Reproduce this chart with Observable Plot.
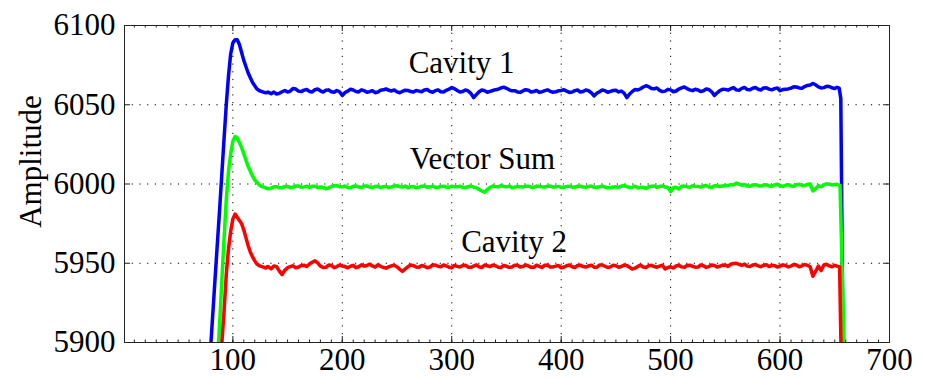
<!DOCTYPE html>
<html>
<head>
<meta charset="utf-8">
<script src="https://cdn.jsdelivr.net/npm/d3@7"></script>
<script src="https://cdn.jsdelivr.net/npm/@observablehq/plot@0.6"></script>
<style>
  html, body { margin: 0; padding: 0; background: #fff; }
  #chart svg { display: block; }
</style>
</head>
<body>
<div id="chart"></div>
<script>
// ---- data ----
const xTicks = [100, 200, 300, 400, 500, 600, 700];
const yTicks = [5900, 5950, 6000, 6050, 6100];
const xMinorTicks = d3.range(10, 700, 10);

// sample positions
const xRise = [70, 80, 84, 88, 90, 92, 94, 96, 98, 100, 102, 104, 106, 108, 110,
               112, 114, 116, 118, 120, 122, 124, 126, 128, 130, 132];
const xFlat = d3.range(135, 651, 5);      // 135, 140, ... 650
const xFlatMid = d3.range(137.5, 650, 5); // 137.5, 142.5, ... 647.5

// Cavity 1 (blue)
const cavity1Rise = [
  5780, 5900, 5943, 5985, 6007, 6029, 6050, 6068, 6082, 6089, 6091, 6091, 6088,
  6083, 6078, 6074, 6070, 6067, 6064, 6062, 6060, 6059, 6058.5, 6058, 6057.5, 6058];
const cavity1Flat = [
  6057, 6056.8, 6058.2, 6058, 6060.3, 6058.6, 6059.2, 6058.4, 6059.5, 6058.8,
  6059.1, 6058.2, 6059, 6055.8, 6058.6, 6059.3, 6058.1, 6058.9, 6058.3, 6057.6,
  6059.2, 6060, 6058.7, 6058.1, 6058.5, 6059, 6058, 6058.6, 6059.3, 6058.4,
  6058.9, 6058.2, 6059.1, 6060.8, 6059, 6058.3, 6058.7, 6054.5, 6058.2, 6058.9,
  6058.4, 6059.5, 6060.6, 6060.4, 6058.8, 6058.1, 6058.7, 6059.2, 6058.3, 6057.8,
  6058.9, 6058.5, 6058.2, 6059, 6058.6, 6058, 6059.3, 6058.4, 6058.8, 6055.6,
  6058.2, 6058.9, 6058.4, 6059.2, 6058.6, 6054.5, 6058.4, 6059.3, 6061.2, 6061.4,
  6060, 6059.1, 6058.6, 6059.4, 6058.7, 6060.6, 6060.2, 6058.9, 6059.3, 6058.8,
  6059.6, 6055.8, 6058.9, 6059.7, 6060.1, 6059.4, 6060.3, 6059.6, 6060.4, 6059.8,
  6060.6, 6059.9, 6060.2, 6058.9, 6059.8, 6060.5, 6061.2, 6060.4, 6062.2, 6063.4,
  6061.3, 6060.8, 6061.5, 6060.2];
const cavity1Mid = [
  6058.0, 6057.2, 6059.0, 6058.6, 6059.9, 6058.3, 6059.6, 6058.1, 6059.9, 6058.0,
  6059.4, 6057.9, 6058.2, 6057.7, 6059.8, 6058.4, 6059.4, 6057.9, 6058.9, 6058.0,
  6059.4, 6059.1, 6059.3, 6057.6, 6059.2, 6058.3, 6059.0, 6058.2, 6059.6, 6057.9,
  6059.4, 6058.0, 6059.8, 6060.1, 6058.0, 6059.3, 6057.2, 6056.4, 6059.3, 6057.9,
  6059.0, 6059.8, 6061.1, 6059.4, 6058.9, 6057.8, 6059.5, 6058.0, 6059.0, 6058.2,
  6059.4, 6057.9, 6058.8, 6059.5, 6057.8, 6058.9, 6058.0, 6059.3, 6057.6, 6057.2,
  6059.3, 6057.9, 6059.0, 6058.1, 6057.3, 6056.8, 6059.6, 6060.1, 6062.0, 6060.3,
  6060.6, 6058.3, 6059.7, 6058.2, 6059.9, 6061.2, 6059.4, 6059.8, 6058.3, 6059.9,
  6058.2, 6057.5, 6059.8, 6059.2, 6060.8, 6059.1, 6060.9, 6059.4, 6060.9, 6059.3,
  6060.7, 6059.4, 6060.6, 6059.6, 6060.0, 6061.4, 6060.6, 6061.5, 6062.4, 6062.6,
  6060.6, 6061.6, 6060.7];
const cavity1TailX = [652, 654, 655.5, 657.5, 660];
const cavity1TailY = [6061, 6060.5, 6054, 5900, 5860];

// Vector Sum (green)
const vectorSumRise = [
  5700, 5810, 5862, 5913, 5940, 5966, 5990, 6008, 6019, 6027, 6030, 6029, 6026,
  6023, 6019, 6015, 6011, 6008, 6005, 6002.5, 6001, 5999.5, 5998.5, 5998, 5997.5, 5997];
const vectorSumFlat = [
  5997.4, 5998.3, 5997.6, 5998.5, 5998, 5998.8, 5998.2, 5997.9, 5998.6, 5998.1,
  5997, 5998.4, 5998.9, 5998.2, 5997.8, 5998.6, 5998.1, 5998.7, 5998, 5998.4,
  5997.7, 5998.5, 5998.2, 5998.9, 5998.1, 5997.6, 5998.4, 5998, 5998.7, 5998.2,
  5997.8, 5998.5, 5998.1, 5998.6, 5998.2, 5997.9, 5998.4, 5998, 5996.5, 5994.8,
  5997.8, 5998.3, 5998.9, 5998.2, 5997.7, 5998.5, 5998.1, 5998.6, 5997.9, 5998.4,
  5998.1, 5998.7, 5998.2, 5997.8, 5998.5, 5998, 5998.6, 5998.1, 5998.4, 5997.9,
  5998.3, 5998, 5997.6, 5998.2, 5998.8, 5998.3, 5998, 5997.5, 5997.9, 5998.3,
  5998.8, 5998.4, 5998.1, 5995.2, 5998, 5998.6, 5998.2, 5998.9, 5998.5, 5998.7,
  5998.1, 5998.9, 5998.4, 5999, 5999.6, 6000.6, 5999.2, 5998.8, 5999.4, 5998.9,
  5999.3, 5998.8, 5999.5, 5998.9, 5999.2, 5998.7, 5999.6, 5999.1, 5999.8, 5995.6,
  5998.9, 5999.6, 5999.9, 5999.7];
const vectorSumMid = [
  5998.2, 5997.6, 5998.5, 5997.7, 5998.7, 5997.9, 5998.6, 5998.6, 5997.7, 5997.9,
  5997.6, 5998.9, 5998.3, 5998.8, 5997.6, 5998.7, 5997.9, 5998.8, 5997.9, 5998.6,
  5998.3, 5997.7, 5998.8, 5998.3, 5998.7, 5998.3, 5997.6, 5998.6, 5998.0, 5998.7,
  5997.9, 5998.6, 5998.0, 5998.3, 5998.6, 5997.8, 5998.6, 5997.6, 5995.6, 5996.5,
  5998.7, 5998.2, 5998.4, 5998.7, 5998.0, 5998.2, 5998.6, 5998.0, 5998.7, 5998.2,
  5998.6, 5998.0, 5998.5, 5997.9, 5998.6, 5998.1, 5998.6, 5998.0, 5998.7, 5998.0,
  5998.6, 5997.6, 5998.1, 5997.8, 5998.9, 5997.8, 5998.6, 5998.0, 5997.2, 5998.6,
  5997.9, 5998.8, 5997.8, 5997.6, 5996.9, 5998.7, 5997.9, 5998.5, 5998.0, 5999.1,
  5998.0, 5998.8, 5998.8, 5999.1, 5999.3, 6000.0, 5999.7, 5998.6, 5999.6, 5998.7,
  5999.5, 5998.6, 5999.8, 5998.5, 5999.6, 5998.6, 5999.8, 5999.0, 6000.0, 5997.1,
  5998.2, 6000.1, 5999.3];
const vectorSumTailX = [652, 654.8, 658.4, 661];
const vectorSumTailY = [5999.8, 5999, 5900, 5870];

// Cavity 2 (red)
const cavity2Rise = [
  5650, 5760, 5820, 5880, 5900, 5920, 5943, 5959, 5970, 5978, 5981, 5979, 5977,
  5975, 5971, 5966, 5961, 5957, 5954, 5951.5, 5949.5, 5948.5, 5948, 5947.5, 5947, 5948];
const cavity2Flat = [
  5946.5, 5947.8, 5942.8, 5947.2, 5948.4, 5947.6, 5948.8, 5949.5, 5951.5, 5948.2,
  5947.4, 5948.6, 5947.9, 5948.3, 5947.1, 5948.7, 5947.8, 5948.2, 5949.4, 5947.6,
  5948.1, 5946.9, 5948.4, 5947.7, 5944.9, 5947.8, 5948.5, 5947.4, 5948.1, 5947.6,
  5948.9, 5947.8, 5948.3, 5947.2, 5948, 5948.6, 5947.5, 5948.2, 5947.7, 5948.9,
  5947.9, 5948.4, 5947.3, 5948.1, 5947.6, 5948.7, 5947.9, 5948.3, 5947.4, 5948,
  5948.8, 5947.6, 5948.2, 5947.1, 5948.4, 5947.8, 5948.6, 5947.9, 5948.3, 5947.5,
  5948.9, 5948.1, 5947.7, 5948.4, 5947.9, 5948.5, 5946.3, 5948, 5947.6, 5948.5,
  5947.9, 5948.2, 5946.4, 5947.8, 5948.3, 5947.7, 5948.6, 5948.1, 5947.6, 5948.4,
  5947.9, 5948.6, 5948.1, 5948.8, 5949.4, 5950, 5948.7, 5948.2, 5948.9, 5948.3,
  5948.7, 5947.9, 5948.5, 5948.1, 5948.6, 5948.2, 5948.9, 5948.4, 5948.7, 5941.8,
  5948.2, 5948.9, 5948.3, 5948.7];
const cavity2Mid = [
  5948.3, 5945.0, 5945.6, 5947.9, 5947.1, 5948.5, 5947.9, 5950.6, 5950.2, 5947.3,
  5948.9, 5947.2, 5948.9, 5947.9, 5948.1, 5947.2, 5949.0, 5948.6, 5948.3, 5949.0,
  5947.3, 5947.8, 5948.8, 5946.2, 5946.4, 5948.9, 5947.6, 5948.6, 5947.2, 5948.9,
  5948.1, 5948.9, 5947.5, 5948.6, 5947.6, 5948.8, 5947.4, 5949.0, 5947.3, 5948.4,
  5948.8, 5947.5, 5948.6, 5947.4, 5948.8, 5947.6, 5948.9, 5947.4, 5948.8, 5947.3,
  5948.9, 5947.7, 5948.6, 5947.6, 5948.9, 5947.3, 5948.8, 5947.6, 5948.8, 5947.4,
  5948.9, 5947.3, 5948.8, 5947.5, 5948.9, 5947.5, 5946.9, 5948.8, 5947.3, 5948.7,
  5947.5, 5948.8, 5947.3, 5947.0, 5948.7, 5947.4, 5948.8, 5947.5, 5948.9, 5947.4,
  5948.9, 5947.6, 5948.9, 5948.0, 5949.9, 5949.3, 5949.5, 5947.9, 5949.2, 5947.8,
  5949.1, 5948.7, 5947.6, 5949.0, 5947.7, 5949.2, 5947.8, 5949.2, 5947.8, 5944.8,
  5945.4, 5949.3, 5947.8];
const cavity2TailX = [652, 654.4, 655.6, 658];
const cavity2TailY = [5948.2, 5947.8, 5900, 5860];

const seriesNames = ["Cavity 1", "Vector Sum", "Cavity 2"];
const seriesColors = ["#0000ff", "#00ff00", "#ff0000"];
const labelX = [309, 328, 357];
const labelY = [6076, 6016, 5963.5];

// ---- build tables ----
function trace(rise, flat, mid, tx, ty) {
  const pts = [];
  xRise.forEach((x, i) => pts.push({x, y: rise[i]}));
  xFlat.forEach((x, i) => pts.push({x, y: flat[i]}));
  xFlatMid.forEach((x, i) => pts.push({x, y: mid[i]}));
  tx.forEach((x, i) => pts.push({x, y: ty[i]}));
  return pts.sort((a, b) => a.x - b.x);
}
const traces = [
  trace(cavity1Rise, cavity1Flat, cavity1Mid, cavity1TailX, cavity1TailY),
  trace(vectorSumRise, vectorSumFlat, vectorSumMid, vectorSumTailX, vectorSumTailY),
  trace(cavity2Rise, cavity2Flat, cavity2Mid, cavity2TailX, cavity2TailY)
];
const labels = seriesNames.map((t, i) => ({text: t, x: labelX[i], y: labelY[i]}));

const FS = 31;
const W = 937, H = 378, ML = 124, MR = 48, MT = 25, MB = 36;
const frameW = W - ML - MR, frameH = H - MT - MB;
const dots = {stroke: "#000", strokeOpacity: 1, strokeWidth: 1, strokeDasharray: "1.2,6.5"};

const chart = Plot.plot({
  width: W, height: H,
  marginLeft: ML, marginRight: MR, marginTop: MT, marginBottom: MB,
  x: {domain: [1, 700], axis: null},
  y: {domain: [5900, 6100], axis: null},
  style: {fontFamily: "'Liberation Serif', 'Times New Roman', serif", fontSize: FS + "px", background: "#fff", color: "#000", overflow: "visible"},
  marks: [
    Plot.gridX(xTicks.slice(0, -1), dots),
    Plot.gridY(yTicks.slice(1, -1), dots),
    ...traces.map((t, i) => Plot.line(t, {x: "x", y: "y", stroke: seriesColors[i], strokeWidth: 3.5,
      strokeLinejoin: "round", strokeLinecap: "round", clip: true})),
    Plot.frame({stroke: "#222", strokeWidth: 1}),
    // inward tick marks
    Plot.ruleX(xMinorTicks, {x: d => d, insetTop: frameH - 2.5, stroke: "#222"}),
    Plot.ruleX(xMinorTicks, {x: d => d, insetBottom: frameH - 2.5, stroke: "#222"}),
    Plot.ruleX(xTicks, {x: d => d, insetTop: frameH - 6, stroke: "#222"}),
    Plot.ruleX(xTicks, {x: d => d, insetBottom: frameH - 6, stroke: "#222"}),
    Plot.ruleY(yTicks, {y: d => d, insetRight: frameW - 6, stroke: "#222"}),
    Plot.ruleY(yTicks, {y: d => d, insetLeft: frameW - 6, stroke: "#222"}),
    // tick labels
    Plot.text(xTicks, {x: d => d, text: d => String(d), frameAnchor: "bottom", lineAnchor: "top", dy: 5.5, fontSize: FS}),
    Plot.text(yTicks, {y: d => d, text: d => String(d), frameAnchor: "left", textAnchor: "end", dx: -9, fontSize: FS}),
    Plot.text(["Amplitude"], {frameAnchor: "left", textAnchor: "middle", lineAnchor: "middle", dx: -93, dy: -22.5, rotate: -90, fontSize: FS}),
    Plot.text(labels, {x: "x", y: "y", text: "text", textAnchor: "middle", lineAnchor: "middle", fontSize: FS})
  ]
});
document.getElementById("chart").append(chart);
</script>
</body>
</html>
